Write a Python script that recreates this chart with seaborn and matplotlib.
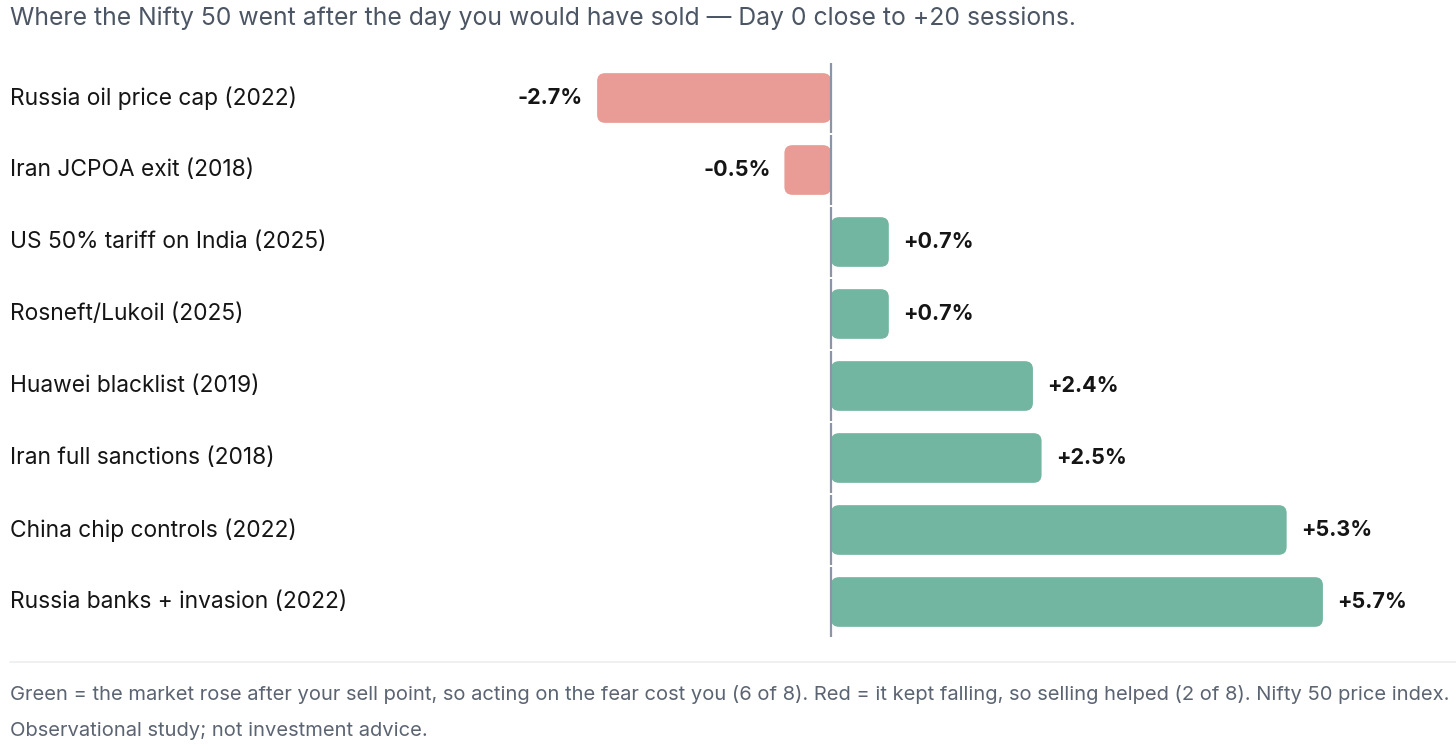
import seaborn as sns
import matplotlib.pyplot as plt
from matplotlib.patches import FancyBboxPatch
import matplotlib.transforms as mtransforms
import pandas as pd

events = [
    'Russia oil price cap (2022)',
    'Iran JCPOA exit (2018)',
    'US 50% tariff on India (2025)',
    'Rosneft/Lukoil (2025)',
    'Huawei blacklist (2019)',
    'Iran full sanctions (2018)',
    'China chip controls (2022)',
    'Russia banks + invasion (2022)',
]
# bar lengths (labels are the rounded figures shown)
returns = [-2.71, -0.54, 0.67, 0.67, 2.34, 2.44, 5.28, 5.70]
value_labels = ['-2.7%', '-0.5%', '+0.7%', '+0.7%', '+2.4%', '+2.5%', '+5.3%', '+5.7%']

title = 'Where the Nifty 50 went after the day you would have sold \u2014 Day 0 close to +20 sessions.'
note_1 = ('Green = the market rose after your sell point, so acting on the fear cost you (6 of 8). '
          'Red = it kept falling, so selling helped (2 of 8). Nifty 50 price index.')
note_2 = 'Observational study; not investment advice.'

GREEN = '#72b6a1'
RED = '#e99b95'

sns.set_theme(style='white')
plt.rcParams['font.family'] = ['Inter', 'DejaVu Sans']

df = pd.DataFrame({'event': events, 'ret': returns})
df['color'] = ['up' if r > 0 else 'down' for r in returns]

W, H = 1456, 750
fig = plt.figure(figsize=(W / 100, H / 100), dpi=100)
ax = fig.add_axes([440 / W, 1 - 638 / H, 1000 / W, 576 / H])

sns.barplot(data=df, x='ret', y='event', hue='color', palette={'up': GREEN, 'down': RED},
            width=0.69, legend=False, ax=ax, orient='h', dodge=False, saturation=1)

px_per_unit = 86.3
x0 = -(831 - 440) / px_per_unit
ax.set_xlim(x0, x0 + 1000 / px_per_unit)
ax.set_ylim(7.5, -0.5)

# swap the square bars for rounded ones
row_px = 576 / 8
radius_px = 8
aspect = px_per_unit / row_px
for p in list(ax.patches):
    x, y, w, h = p.get_x(), p.get_y(), p.get_width(), p.get_height()
    if w == 0:
        continue
    if w < 0:
        x, w = x + w, -w
    rp = FancyBboxPatch((x, y), w, h,
                        boxstyle=f'round,pad=0,rounding_size={radius_px / px_per_unit}',
                        mutation_aspect=aspect, facecolor=p.get_facecolor(),
                        edgecolor='none', zorder=2)
    p.remove()
    ax.add_patch(rp)

# zero line, drawn per row with small gaps
for i in range(len(events)):
    ax.plot([0, 0], [i - 0.49, i + 0.49], color='#8b95a7', lw=1.6, zorder=3,
            solid_capstyle='butt')

for i, (r, lab) in enumerate(zip(returns, value_labels)):
    off = 10.5 if r > 0 else -10
    ax.annotate(lab, (r, i), xytext=(off, 0), textcoords='offset points',
                ha='left' if r > 0 else 'right', va='center',
                fontsize=15.5, fontweight='bold', color='#151515')

# category labels on the far left
trans = mtransforms.blended_transform_factory(fig.transFigure, ax.transData)
for i, ev in enumerate(events):
    fig.text(10 / W, i, ev, transform=trans, ha='left', va='center',
             fontsize=16.4, color='#151515')

ax.set_yticks([])
ax.set_xticks([])
ax.set_xlabel('')
ax.set_ylabel('')
sns.despine(ax=ax, left=True, bottom=True)

fig.text(10 / W, 1 - 18 / H, title, ha='left', va='center', fontsize=17.8, color='#4b5563')

fig.add_artist(plt.Line2D([10 / W, 1], [1 - 662 / H] * 2, transform=fig.transFigure,
                          color='#eceef2', lw=1.2))
fig.text(10 / W, 1 - 695 / H, note_1, ha='left', va='center', fontsize=14.5, color='#5b6472')
fig.text(10 / W, 1 - 731 / H, note_2, ha='left', va='center', fontsize=14.5, color='#5b6472')

fig.savefig('out.png', dpi=100, facecolor='white')
